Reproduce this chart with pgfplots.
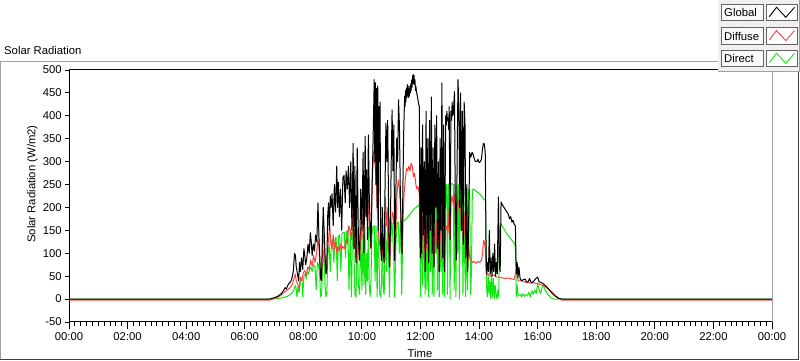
\documentclass[border=0pt]{standalone}
\usepackage{fontspec}
\setmainfont{Liberation Sans}
\usepackage{pgfplots}
\pgfplotsset{compat=1.18}
\usepackage{pgfplotstable}

\definecolor{glob}{RGB}{0,0,0}
\definecolor{diff}{RGB}{255,64,64}
\definecolor{dirc}{RGB}{16,232,16}
\definecolor{legbg}{RGB}{240,240,240}
\definecolor{panelgray}{RGB}{160,160,160}
\definecolor{boxline}{RGB}{100,100,100}

\pgfplotstableread{
h v
0 0
6.85 0
6.95 2
7.05 4
7.15 7
7.25 12
7.32 18
7.38 25
7.42 22
7.47 30
7.52 35
7.57 38
7.62 48
7.66 62
7.70 100
7.73 95
7.76 70
7.80 55
7.84 40
7.87 80
7.90 60
7.94 90
7.98 65
8.02 110
8.05 95
8.08 75
8.12 90
8.16 120
8.20 100
8.24 145
8.27 125
8.30 95
8.34 120
8.38 105
8.42 140
8.46 125
8.50 210
8.53 140
8.56 95
8.59 45
8.62 40
8.65 130
8.68 200
8.71 150
8.74 95
8.77 55
8.80 65
8.83 180
8.86 210
8.89 150
8.92 225
8.95 200
8.98 230
9.02 160
9.06 250
9.10 190
9.14 290
9.17 200
9.20 255
9.23 180
9.27 240
9.31 150
9.35 265
9.39 270
9.43 210
9.46 280
9.50 240
9.54 290
9.58 200
9.62 300
9.66 150
9.70 340
9.73 110
9.76 290
9.80 80
9.84 330
9.88 130
9.92 85
9.96 240
10.00 150
10.04 320
10.07 100
10.11 355
10.14 180
10.16 282
10.19 130
10.22 358
10.25 230
10.28 157
10.31 113
10.35 250
10.39 377
10.42 479
10.44 300
10.46 472
10.48 250
10.50 460
10.52 200
10.54 465
10.56 150
10.58 420
10.60 300
10.62 430
10.64 120
10.67 84
10.70 200
10.73 100
10.76 80
10.79 250
10.82 384
10.85 300
10.88 390
10.91 200
10.94 70
10.97 150
11.00 300
11.03 413
11.06 280
11.09 380
11.12 84
11.15 200
11.19 352
11.22 300
11.25 435
11.28 380
11.31 240
11.34 150
11.37 99
11.40 250
11.43 377
11.46 443
11.47 420
11.49 455
11.50 430
11.52 460
11.53 440
11.55 468
11.56 445
11.58 465
11.59 440
11.61 458
11.62 443
11.64 465
11.65 450
11.67 470
11.68 455
11.70 478
11.71 462
11.73 485
11.75 490
11.76 470
11.78 488
11.79 468
11.81 479
11.83 455
11.84 465
11.87 450
11.90 440
11.93 428
11.96 420
11.98 150
12.00 90
12.02 330
12.04 100
12.07 380
12.10 140
12.13 300
12.16 60
12.19 410
12.22 120
12.25 350
12.28 80
12.31 390
12.34 150
12.37 441
12.40 100
12.43 330
12.46 70
12.49 380
12.52 200
12.55 400
12.58 110
12.61 300
12.64 60
12.67 350
12.70 150
12.73 472
12.76 90
12.79 380
12.82 60
12.86 400
12.88 380
12.90 410
12.92 390
12.94 395
12.96 370
12.98 420
13.01 130
13.04 410
13.06 390
13.08 430
13.10 400
13.12 405
13.16 453
13.19 180
13.22 85
13.25 300
13.28 479
13.31 420
13.34 200
13.37 450
13.40 150
13.43 410
13.46 120
13.49 430
13.52 380
13.55 90
13.58 250
13.61 60
13.64 150
13.68 320
13.72 310
13.76 320
13.80 315
13.84 305
13.88 300
13.92 300
13.96 305
14.00 298
14.04 300
14.08 305
14.12 330
14.15 340
14.18 338
14.21 320
14.24 100
14.26 55
14.29 80
14.32 60
14.35 150
14.38 55
14.41 90
14.44 50
14.47 100
14.50 60
14.53 120
14.56 50
14.59 80
14.62 55
14.66 223
14.69 70
14.72 60
14.75 212
14.80 205
14.85 200
14.90 195
14.95 190
15.00 185
15.04 175
15.08 180
15.12 168
15.16 172
15.20 163
15.24 160
15.26 85
15.28 55
15.30 80
15.33 48
15.36 70
15.40 45
15.45 40
15.50 42
15.57 44
15.62 38
15.67 37
15.72 45
15.78 36
15.84 37
15.92 44
16.00 48
16.05 38
16.12 36
16.18 34
16.31 27
16.42 18
16.50 12
16.59 7
16.70 2
16.82 0
24 0
}\globaltab

\pgfplotstableread{
h v
0 -2
6.85 -2
6.95 0
7.05 2
7.15 5
7.25 9
7.35 15
7.45 20
7.55 25
7.62 32
7.68 45
7.72 55
7.76 40
7.82 30
7.86 22
7.90 48
7.95 40
8.00 58
8.05 62
8.10 50
8.15 70
8.20 65
8.25 85
8.30 72
8.35 95
8.40 80
8.45 100
8.50 130
8.54 110
8.58 45
8.62 40
8.66 120
8.70 140
8.74 90
8.78 55
8.82 100
8.86 130
8.90 160
8.94 120
8.98 110
9.02 140
9.06 110
9.10 125
9.14 100
9.18 115
9.22 105
9.26 120
9.30 108
9.35 115
9.40 110
9.45 130
9.50 120
9.55 160
9.60 150
9.65 130
9.70 205
9.73 110
9.76 150
9.80 80
9.84 120
9.88 110
9.92 85
9.96 150
10.00 130
10.05 200
10.10 230
10.14 180
10.18 260
10.22 200
10.26 150
10.30 110
10.35 260
10.40 322
10.43 300
10.46 290
10.49 260
10.52 200
10.56 150
10.60 120
10.64 110
10.67 84
10.72 120
10.76 80
10.80 223
10.84 160
10.88 200
10.92 120
10.95 70
11.00 150
11.04 190
11.08 180
11.12 84
11.16 150
11.20 230
11.24 260
11.28 240
11.32 200
11.37 99
11.40 170
11.44 230
11.48 260
11.52 285
11.56 280
11.60 290
11.64 280
11.68 297
11.72 290
11.76 267
11.80 275
11.84 250
11.88 240
11.92 245
11.96 230
11.98 140
12.00 90
12.02 200
12.04 100
12.07 180
12.10 140
12.13 150
12.16 60
12.19 170
12.22 110
12.25 140
12.28 80
12.31 160
12.34 150
12.37 180
12.40 100
12.43 140
12.46 70
12.49 150
12.52 120
12.55 170
12.58 110
12.61 200
12.64 60
12.67 130
12.70 150
12.73 210
12.76 90
12.79 140
12.82 60
12.86 150
12.90 160
12.94 145
12.98 200
13.01 130
13.04 210
13.08 225
13.12 205
13.16 230
13.19 180
13.22 85
13.25 195
13.28 215
13.31 200
13.34 190
13.37 200
13.40 150
13.43 175
13.46 120
13.49 190
13.52 145
13.55 90
13.58 160
13.61 60
13.64 120
13.68 90
13.72 85
13.78 80
13.84 82
13.90 78
13.96 82
14.02 80
14.08 85
14.12 100
14.15 128
14.18 125
14.21 110
14.24 60
14.27 52
14.32 55
14.40 50
14.50 52
14.60 48
14.70 48
14.80 46
14.90 45
15.00 46
15.10 44
15.20 43
15.26 62
15.29 58
15.33 40
15.45 40
15.57 37
15.75 35
15.91 35
16.10 32
16.25 27
16.40 20
16.49 16
16.60 8
16.70 3
16.82 -2
24 -2
}\diffusetab

\pgfplotstableread{
h v
0 0
6.95 0
7.10 1
7.30 3
7.45 6
7.55 10
7.62 14
7.68 20
7.72 30
7.75 25
7.78 5
7.82 28
7.86 15
7.90 40
7.95 45
7.98 5
8.02 50
8.06 55
8.10 45
8.14 60
8.18 55
8.22 65
8.26 70
8.30 60
8.35 75
8.40 70
8.44 20
8.48 80
8.52 75
8.56 50
8.59 5
8.62 8
8.66 70
8.70 110
8.74 30
8.77 5
8.80 10
8.84 100
8.88 120
8.92 60
8.96 125
9.00 130
9.04 80
9.08 132
9.12 135
9.16 40
9.20 138
9.24 140
9.28 60
9.32 142
9.36 145
9.40 146
9.44 90
9.48 148
9.52 150
9.56 20
9.60 152
9.64 5
9.68 153
9.73 100
9.76 10
9.80 5
9.84 155
9.88 30
9.92 10
9.96 156
10.00 20
10.04 140
10.07 30
10.10 157
10.13 10
10.16 100
10.19 40
10.22 158
10.25 30
10.28 5
10.31 40
10.34 140
10.38 159
10.42 160
10.45 40
10.48 161
10.52 5
10.55 162
10.58 100
10.61 10
10.64 5
10.67 30
10.70 163
10.73 20
10.76 10
10.80 164
10.84 60
10.88 165
10.91 100
10.94 5
10.98 150
11.03 166
11.08 100
11.12 5
11.16 120
11.20 167
11.24 168
11.28 100
11.32 169
11.36 10
11.40 170
11.45 172
11.50 175
11.55 178
11.60 182
11.65 186
11.70 190
11.75 195
11.80 198
11.85 200
11.90 203
11.95 205
11.97 190
12.00 5
12.04 180
12.07 30
12.10 200
12.13 80
12.16 10
12.19 210
12.22 20
12.25 150
12.28 5
12.31 215
12.34 60
12.37 220
12.40 10
12.43 180
12.46 5
12.49 225
12.52 100
12.55 228
12.58 20
12.61 200
12.64 5
12.67 230
12.70 60
12.73 240
12.76 10
12.79 235
12.82 5
12.86 248
12.90 250
12.92 10
12.95 250
12.98 252
13.01 0
13.04 250
13.08 252
13.12 250
13.15 20
13.18 250
13.21 5
13.24 248
13.27 100
13.30 250
13.33 0
13.36 245
13.39 150
13.42 250
13.45 10
13.48 240
13.51 80
13.54 5
13.57 235
13.60 20
13.64 240
13.68 230
13.71 10
13.74 60
13.77 238
13.82 240
13.86 238
13.92 234
13.98 232
14.04 228
14.10 224
14.16 218
14.22 215
14.25 30
14.28 5
14.31 55
14.34 10
14.37 40
14.40 0
14.43 50
14.46 5
14.49 45
14.52 0
14.55 30
14.58 10
14.61 0
14.64 20
14.67 5
14.70 150
14.74 165
14.80 158
14.86 152
14.92 145
14.98 140
15.04 135
15.10 130
15.16 125
15.22 120
15.25 100
15.27 5
15.30 30
15.33 8
15.40 10
15.45 5
15.50 12
15.55 6
15.60 10
15.65 8
15.70 15
15.75 5
15.80 18
15.85 10
15.90 20
15.95 12
16.00 35
16.05 20
16.10 12
16.15 25
16.20 30
16.25 20
16.35 10
16.45 3
16.55 0
24 0
}\directtab

\begin{document}
\begin{tikzpicture}
\path[use as bounding box] (0pt,0pt) rectangle (800pt,361pt);
% panel frame
\draw[panelgray, line width=1pt] (0.5pt,1pt) -- (0.5pt,299.5pt) -- (719pt,299.5pt);
\draw[black!75, line width=1pt] (0pt,1.5pt) -- (798.5pt,1.5pt) -- (798.5pt,289pt);
\node[anchor=base west, inner sep=0pt, font=\fontsize{11.3pt}{13pt}\selectfont] at (4pt,306.7pt) {Solar Radiation};

\begin{axis}[
  name=ax,
  at={(69pt,39pt)}, anchor=south west,
  scale only axis, width=703pt, height=252pt,
  xmin=0, xmax=24, ymin=-50, ymax=500,
  axis lines*=left,
  axis line style={black, line width=1pt},
  tick align=outside,
  xtick={0,2,...,24},
  xticklabels={00:00,02:00,04:00,06:00,08:00,10:00,12:00,14:00,16:00,18:00,20:00,22:00,00:00},
  minor x tick num=9,
  ytick={-50,0,50,100,150,200,250,300,350,400,450,500},
  yticklabels={-50,0,50,100,150,200,250,300,350,400,450,500},
  minor ytick={-50,0,50,100,150,200,250,300,350,400,450,500},
  major tick length=7pt,
  minor tick length=4pt,
  every major y tick/.append style={draw=none},
  tick style={black, line width=0.9pt},
  ticklabel style={font=\fontsize{11.3pt}{13pt}\selectfont, text=black},
  yticklabel style={xshift=3.3pt},
  every axis plot/.append style={line width=1pt, no marks, line join=round},
]
\addplot[dirc] table[x=h,y=v] {\directtab};
\addplot[diff] table[x=h,y=v] {\diffusetab};
\addplot[glob] table[x=h,y=v] {\globaltab};
\end{axis}
\draw[black, line width=1pt] (ax.north west) -- (ax.north east);
\draw[panelgray, line width=1pt] (ax.south east) -- (ax.north east);

\node[rotate=90, font=\fontsize{11.3pt}{13pt}\selectfont] at (32.5pt,177pt) {Solar Radiation (W/m2)};
\node[anchor=base, inner sep=0pt, font=\fontsize{11.3pt}{13pt}\selectfont] at (420pt,3.8pt) {Time};

% legend
\fill[legbg] (718pt,289pt) rectangle (800pt,361pt);
\draw[panelgray, line width=1pt] (718pt,289.5pt) -- (799.5pt,289.5pt) -- (799.5pt,361pt);
\foreach \yt/\lab/\col in {357/Global/glob, 333.7/Diffuse/diff, 311/Direct/dirc} {
  \draw[boxline, fill=white!60!legbg, line width=0.9pt] (721.5pt,\yt pt) rectangle (763pt,\yt pt-16.7pt);
  \draw[boxline, fill=white, line width=0.9pt] (766.5pt,\yt pt) rectangle (797pt,\yt pt-16.7pt);
  \node[anchor=base west, inner sep=0pt, font=\fontsize{11.3pt}{13pt}\selectfont] at (724pt,\yt pt-13pt) {\lab};
  \draw[\col, line width=0.9pt] (769.3pt,\yt pt-12.7pt) -- (776.5pt,\yt pt-3.3pt) -- (785.8pt,\yt pt-13.3pt) -- (794.5pt,\yt pt-3.3pt);
}
\end{tikzpicture}
\end{document}
